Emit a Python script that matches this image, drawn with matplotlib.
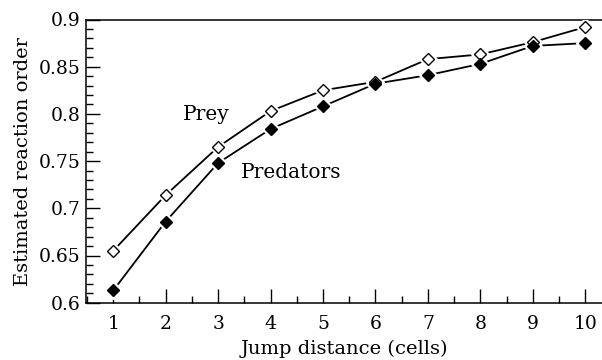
import matplotlib
matplotlib.use("Agg")
import matplotlib.pyplot as plt
from matplotlib.ticker import MultipleLocator

jump = [1, 2, 3, 4, 5, 6, 7, 8, 9, 10]
prey = [0.655, 0.714, 0.765, 0.803, 0.825, 0.834, 0.858, 0.863, 0.876, 0.892]
predators = [0.613, 0.686, 0.748, 0.784, 0.808, 0.832, 0.841, 0.853, 0.872, 0.875]
yticks = [0.6, 0.65, 0.7, 0.75, 0.8, 0.85, 0.9]
ytick_labels = ["0.6", "0.65", "0.7", "0.75", "0.8", "0.85", "0.9"]

plt.rcParams['font.family'] = ['DejaVu Serif']

fig = plt.figure(figsize=(6.02, 3.6), dpi=100)
ax = fig.add_axes([86/602, 1-302.7/360, (602-86)/602, (302.7-19.5)/360])

ms = 6
for ys, fill in ((prey, 'white'), (predators, 'black')):
    ax.plot(jump, ys, color='black', lw=1.3, zorder=2)
    ax.plot(jump, ys, ls='none', marker='D', ms=ms + 3.5, mfc='white', mec='white', zorder=3)
    ax.plot(jump, ys, ls='none', marker='D', ms=ms, mfc=fill, mec='black', mew=1.0, zorder=4)

ax.set_xlim(0.48, 10.32)
ax.set_ylim(0.6, 0.9)
ax.set_xticks(jump)
ax.set_yticks(yticks)
ax.set_yticklabels(ytick_labels)
ax.xaxis.set_minor_locator(MultipleLocator(0.5))
ax.yaxis.set_minor_locator(MultipleLocator(0.01))
ax.tick_params(which='major', direction='in', length=10, width=1, labelsize=13.5)
ax.tick_params(which='minor', direction='in', length=5, width=1)
ax.tick_params(axis='x', pad=9)
ax.tick_params(axis='y', pad=4)
ax.spines['right'].set_visible(False)
for s in ('left', 'bottom', 'top'):
    ax.spines[s].set_linewidth(1.1)

ax.text(2.33, 0.799, "Prey", fontsize=14.5, va='center', ha='left')
ax.text(3.44, 0.738, "Predators", fontsize=14.5, va='center', ha='left')

ax.set_xlabel("Jump distance (cells)", fontsize=14, labelpad=5)
ax.set_ylabel("Estimated reaction order", fontsize=14, labelpad=5)

fig.savefig("out.png", dpi=100)
